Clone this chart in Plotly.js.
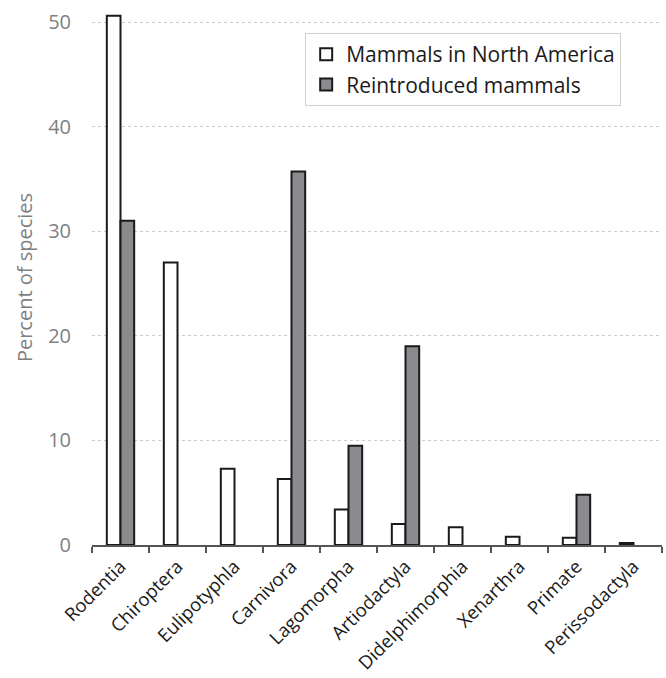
<!DOCTYPE html>
<html>
<head>
<meta charset="utf-8">
<script src="https://cdn.plot.ly/plotly-3.0.1.min.js"></script>
<style>html,body{margin:0;padding:0;background:#fff;}#chart{width:666px;height:678px;}</style>
</head>
<body>
<div id="chart"></div>
<script>
var categories = ["Rodentia","Chiroptera","Eulipotyphla","Carnivora","Lagomorpha","Artiodactyla","Didelphimorphia","Xenarthra","Primate","Perissodactyla"];
var northAmerica = [50.6, 27.0, 7.3, 6.3, 3.4, 2.0, 1.7, 0.8, 0.7, 0.2];
var reintroduced = [31.0, null, null, 35.7, 9.5, 19.0, null, null, 4.8, null];
var yTicks = [0, 10, 20, 30, 40, 50];

var FONT = "'Open Sans', sans-serif";

var data = [
  {type: "bar", name: "Mammals in North America", x: categories, y: northAmerica,
   marker: {color: "#ffffff", line: {color: "#1a1a1a", width: 2}}},
  {type: "bar", name: "Reintroduced mammals", x: categories, y: reintroduced,
   marker: {color: "#8a8b8f", line: {color: "#1a1a1a", width: 2}}}
];

var layout = {
  width: 666, height: 678,
  margin: {l: 92, r: 4, t: 10, b: 133},
  paper_bgcolor: "#ffffff", plot_bgcolor: "#ffffff",
  barmode: "group", bargap: 0.52, bargroupgap: 0,
  font: {family: FONT, color: "#222"},
  showlegend: true,
  legend: {x: 0.374, y: 0.957, xanchor: "left", yanchor: "top",
           bgcolor: "#ffffff", bordercolor: "#d0d0d0", borderwidth: 1,
           font: {family: FONT, size: 21, color: "#1a1a1a"},
           itemwidth: 30, tracegroupgap: 0},
  xaxis: {type: "category", tickangle: -45, tickson: "boundaries",
          ticks: "outside", ticklen: 6, tickcolor: "#555", tickwidth: 1.5,
          showline: true, linecolor: "#555", linewidth: 1.5,
          ticklabelstandoff: 2,
          tickfont: {family: FONT, size: 18.5, color: "#1a1a1a"},
          showgrid: false, fixedrange: true},
  yaxis: {range: [0, 51.15], tickvals: yTicks, ticktext: yTicks.map(String),
          showgrid: true, gridcolor: "#cccccc", griddash: "dot", gridwidth: 1,
          zeroline: false, showline: false, ticks: "", ticklen: 0,
          ticklabelstandoff: 20,
          tickfont: {family: FONT, size: 20, color: "#7f7f7f"},
          title: {text: "Percent of species", font: {family: FONT, size: 20, color: "#7f7f7f"}, standoff: 10},
          fixedrange: true}
};

Plotly.newPlot("chart", data, layout, {displayModeBar: false, staticPlot: true});
</script>
</body>
</html>
